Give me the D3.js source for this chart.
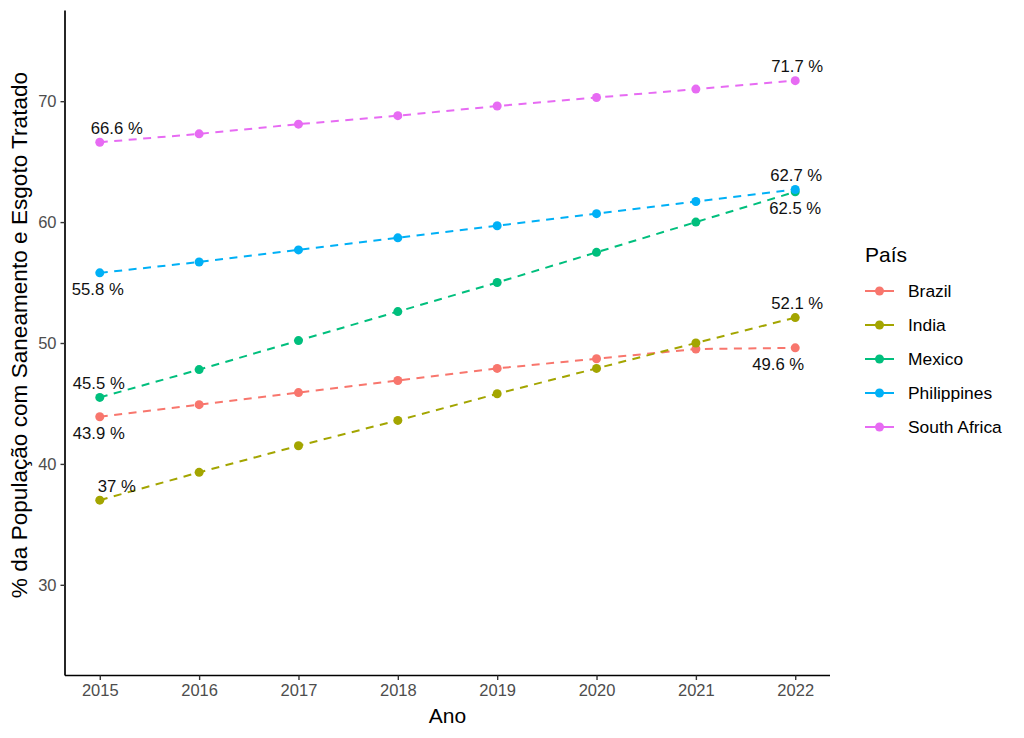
<!DOCTYPE html>
<html>
<head>
<meta charset="utf-8">
<script src="https://cdn.jsdelivr.net/npm/d3@7"></script>
<style>
  html, body { margin: 0; padding: 0; background: #ffffff; }
  svg { display: block; font-family: "Liberation Sans", Arial, sans-serif; }
</style>
</head>
<body>
<svg id="chart" width="1024" height="738"></svg>
<script>
// ---- data ----
const years = [2015, 2016, 2017, 2018, 2019, 2020, 2021, 2022];
const countries = ["Brazil", "India", "Mexico", "Philippines", "South Africa"];
const brazil      = [43.9, 44.9, 45.9, 46.9, 47.9, 48.7, 49.5, 49.6];
const india       = [37.0, 39.3, 41.5, 43.6, 45.8, 47.9, 50.0, 52.1];
const mexico      = [45.5, 47.8, 50.2, 52.6, 55.0, 57.5, 60.0, 62.5];
const philippines = [55.8, 56.7, 57.7, 58.7, 59.7, 60.7, 61.7, 62.7];
const southAfrica = [66.6, 67.3, 68.1, 68.8, 69.6, 70.3, 71.0, 71.7];
const yTicks = [30, 40, 50, 60, 70];
const firstLabels = ["43.9 %", "37 %", "45.5 %", "55.8 %", "66.6 %"];
const lastLabels  = ["49.6 %", "52.1 %", "62.5 %", "62.7 %", "71.7 %"];
const xTitle = "Ano";
const yTitle = "% da População com Saneamento e Esgoto Tratado";
const legendTitle = "País";

// ---- styles ----
const colors = ["#F8766D", "#A3A500", "#00BF7D", "#00B0F6", "#E76BF3"];
// label placement (style only): [dx, side] for first and last point
const firstPlace = [[-1, "below"], [17, "above"], [-1, "above"], [-2, "below"], [17, "above"]];
const lastPlace  = [[-17, "below"], [2, "above"], [0, "below"], [1, "above"], [2, "above"]];

const seriesValues = [brazil, india, mexico, philippines, southAfrica];
const series = countries.map((c, i) => ({
  name: c, color: colors[i],
  points: years.map((y, j) => ({ year: y, value: seriesValues[i][j] }))
}));

const svg = d3.select("#chart");
const margin = { left: 65, right: 830, top: 10.5, bottom: 675.5 };

const x = d3.scaleLinear().domain([2014.65, 2022.35]).range([margin.left, margin.right]);
const y = d3.scaleLinear().domain([22.5, 77.5]).range([margin.bottom, margin.top]);

// axes
const xAxis = d3.axisBottom(x).tickValues(years).tickFormat(d3.format("d")).tickSize(4.5).tickPadding(4);
const yAxis = d3.axisLeft(y).tickValues(yTicks).tickFormat(d3.format("d")).tickSize(4.5).tickPadding(4);

const gx = svg.append("g").attr("transform", `translate(0,${margin.bottom})`).call(xAxis);
const gy = svg.append("g").attr("transform", `translate(${margin.left},0)`).call(yAxis);
[gx, gy].forEach(g => {
  g.select(".domain").attr("stroke", "#000").attr("stroke-width", 1.7);
  g.selectAll(".tick line").attr("stroke", "#333").attr("stroke-width", 1.4);
  g.selectAll(".tick text").attr("fill", "#4d4d4d").style("font-size", "16.5px")
    .style("font-family", "'Liberation Sans', Arial, sans-serif");
});
gx.select(".domain").attr("d", `M${margin.left},0H${margin.right}`);
gy.select(".domain").attr("d", `M0,${margin.top}V${margin.bottom}`);

// axis titles
svg.append("text").attr("x", (margin.left + margin.right) / 2).attr("y", 723)
  .attr("text-anchor", "middle").style("font-size", "21px").attr("fill", "#000").text(xTitle);
svg.append("text").attr("transform", `translate(27,${(margin.top + margin.bottom) / 2 - 8}) rotate(-90)`)
  .attr("text-anchor", "middle").style("font-size", "22.6px").attr("fill", "#000").text(yTitle);

// lines
const line = d3.line().x(d => x(d.year)).y(d => y(d.value));
const gLines = svg.append("g");
series.forEach(s => {
  gLines.append("path").datum(s.points).attr("d", line)
    .attr("fill", "none").attr("stroke", s.color).attr("stroke-width", 2)
    .attr("stroke-dasharray", "8,6.5");
});
series.forEach(s => {
  gLines.selectAll(null).data(s.points).enter().append("circle")
    .attr("cx", d => x(d.year)).attr("cy", d => y(d.value)).attr("r", 4.5)
    .attr("fill", s.color);
});

// labels
const gLab = svg.append("g");
series.forEach((s, i) => {
  const f = s.points[0], l = s.points[s.points.length - 1];
  [[f, firstLabels[i], firstPlace[i]], [l, lastLabels[i], lastPlace[i]]].forEach(([p, t, pl]) => {
    gLab.append("text")
      .attr("x", x(p.year) + pl[0])
      .attr("y", y(p.value) + (pl[1] === "above" ? -14 : 16))
      .attr("dy", "0.35em")
      .attr("text-anchor", "middle")
      .style("font-size", "16.7px").attr("fill", "#111").text(t);
  });
});

// legend
const lg = svg.append("g");
lg.append("text").attr("x", 865).attr("y", 262).style("font-size", "21px").attr("fill", "#000").text(legendTitle);
series.forEach((s, i) => {
  const cy = 291 + i * 34;
  lg.append("line").attr("x1", 865).attr("x2", 894).attr("y1", cy).attr("y2", cy)
    .attr("stroke", s.color).attr("stroke-width", 2);
  lg.append("circle").attr("cx", 879.5).attr("cy", cy).attr("r", 4.5).attr("fill", s.color);
  lg.append("text").attr("x", 908).attr("y", cy).attr("dy", "0.35em")
    .style("font-size", "17.4px").attr("fill", "#000").text(s.name);
});
</script>
</body>
</html>
